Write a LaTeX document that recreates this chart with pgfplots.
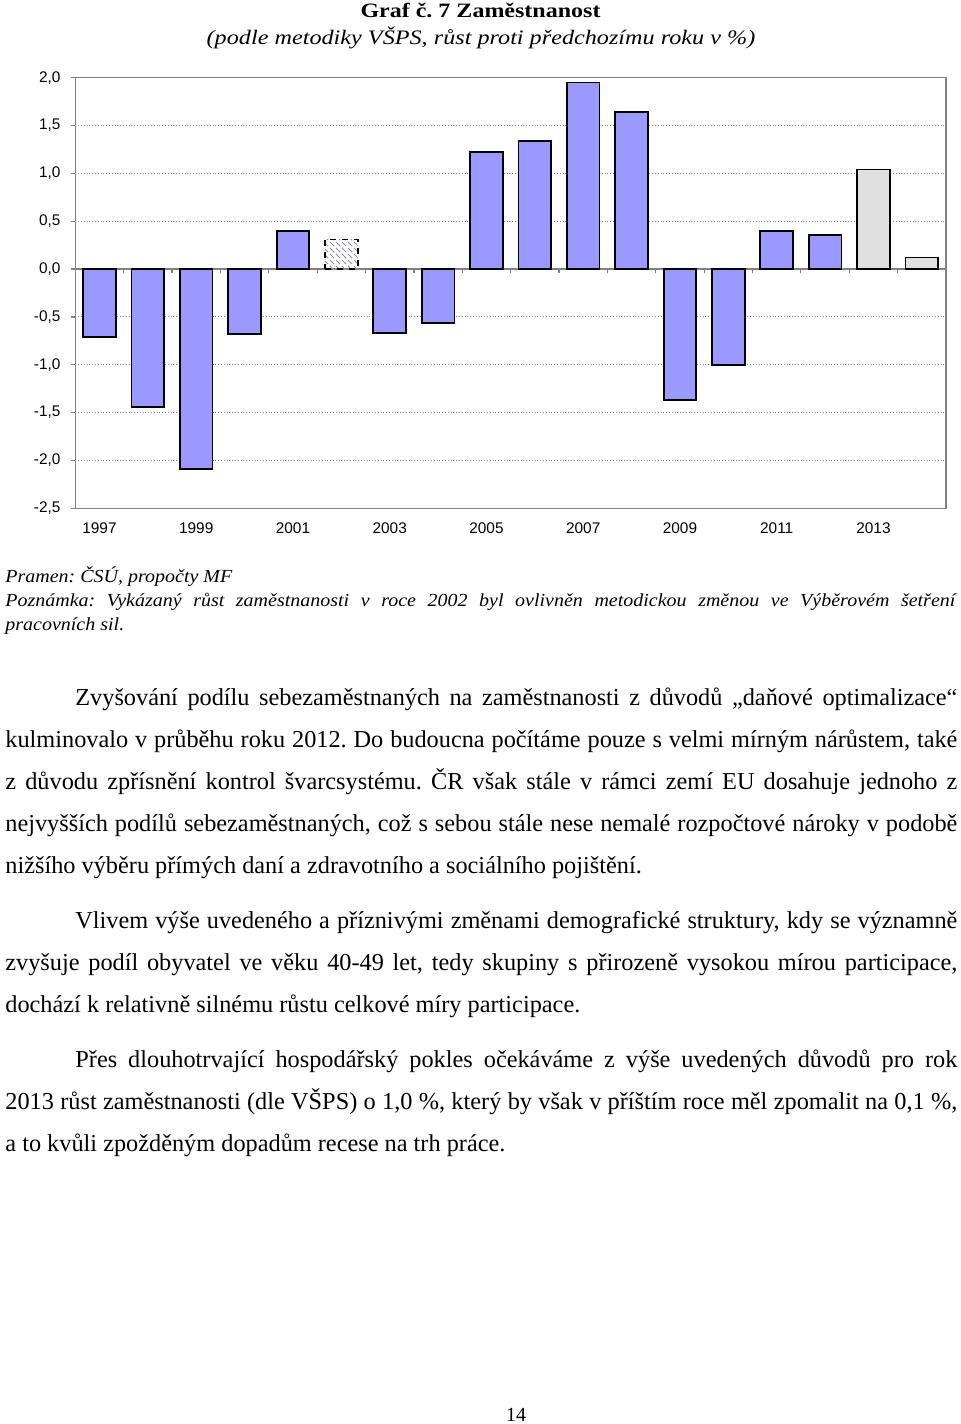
\documentclass[border=0pt]{standalone}
\usepackage{fontspec}
\setmainfont{Liberation Serif}
\newfontfamily\arial{Liberation Sans}
\usepackage{pgfplots}
\pgfplotsset{compat=1.18}
\usetikzlibrary{patterns}
\definecolor{barblue}{HTML}{9999FF}
\definecolor{bargray}{HTML}{E0E0E0}
\definecolor{hatch}{HTML}{8C8CB4}
\definecolor{gridgray}{HTML}{808080}
\pgfplotsset{
  base/.style={
    at={(37.65pt,-38.85pt)}, anchor=north west,
    scale only axis, width=435.35pt, height=215.3pt,
    xmin=-0.5, xmax=17.5, ymin=-2.5, ymax=2.0,
  }
}
\frenchspacing
\begin{document}
\begin{tikzpicture}
\useasboundingbox (0,0) rectangle (480pt,-712pt);
% zero line with category boundary ticks
\begin{axis}[base,
  axis x line=middle, axis y line=none,
  axis line style={-, gridgray, line width=0.6pt},
  xtick={0.5,1.5,...,16.5}, xticklabels={},
  ytick=\empty,
  x tick style={gridgray, line width=0.6pt},
  tick align=outside, major tick length=2.2pt,
]
\end{axis}
\begin{axis}[base,
  ytick={-2.5,-2,-1.5,-1,-0.5,0,0.5,1,1.5,2},
  xtick={0,2,...,16},
  xticklabels={1997,1999,2001,2003,2005,2007,2009,2011,2013},
  x tick style={draw=none},
  ytick pos=left,
  tick align=outside, major tick length=2.3pt,
  y tick style={gridgray, line width=0.6pt},
  ymajorgrids,
  grid style={gridgray, densely dotted, line width=0.5pt},
  axis line style={gridgray, line width=0.6pt},
  yticklabel style={font=\arial\fontsize{7.7}{9}\selectfont, xshift=-1.6pt},
  xticklabel style={font=\arial\fontsize{7.7}{9}\selectfont, yshift=-1.6pt},
  /pgf/number format/.cd, fixed, fixed zerofill, precision=1, use comma, assume math mode=true,
  /pgfplots/.cd,
  ybar, bar width=0.675, bar shift=0pt,
]
\addplot[fill=barblue, draw=black, line width=0.9pt] coordinates {
  (0,-0.71) (1,-1.44) (2,-2.09) (3,-0.68) (4,0.40)
  (6,-0.67) (7,-0.56) (8,1.22) (9,1.34) (10,1.95) (11,1.64)
  (12,-1.37) (13,-1.00) (14,0.40) (15,0.36)};
\addplot[pattern=north west lines, pattern color=hatch, draw=black, dashed, line width=0.9pt] coordinates {(5,0.31)};
\addplot[fill=bargray, draw=black, line width=0.9pt] coordinates {(16,1.04) (17,0.12)};
\end{axis}
\begin{scope}[x=0.5pt,y=-0.5pt]
\node[anchor=base, inner sep=0] at (480.5,17.3) {\scalebox{1}[0.85]{\fontsize{12}{14}\selectfont\bfseries Graf č. 7 Zaměstnanost}};
\node[anchor=base, inner sep=0] at (481,44) {\scalebox{1}[0.85]{\fontsize{12.1}{14}\selectfont\itshape (podle metodiky VŠPS, růst proti předchozímu roku v~\%)}};
\node[anchor=base west, inner sep=0] at (5,582.5) {\scalebox{1}[0.92]{\parbox[t]{475pt}{\fontsize{10}{13}\selectfont\itshape\frenchspacing Pramen: ČSÚ, propočty MF\\
Poznámka: Vykázaný růst zaměstnanosti v~roce 2002 byl ovlivněn metodickou změnou ve Výběrovém šetření \linebreak pracovních sil.}}};
\node[anchor=base west, inner sep=0] at (5,705) {\parbox[t]{476pt}{\fontsize{12.15}{21.1}\selectfont\frenchspacing\setlength{\parindent}{35pt}\setlength{\parskip}{6.2pt}%
\indent Zvyšování podílu sebezaměstnaných na zaměstnanosti z~důvodů „daňové optimalizace“ \linebreak
kulminovalo v~průběhu roku 2012. Do budoucna počítáme pouze s~velmi mírným nárůstem, také \linebreak
z~důvodu zpřísnění kontrol švarcsystému. ČR však stále v~rámci zemí EU dosahuje jednoho z \linebreak
nejvyšších podílů sebezaměstnaných, což s~sebou stále nese nemalé rozpočtové nároky v~podobě \linebreak
nižšího výběru přímých daní a zdravotního a sociálního pojištění.\par
Vlivem výše uvedeného a příznivými změnami demografické struktury, kdy se významně \linebreak
zvyšuje podíl obyvatel ve věku 40-49 let, tedy skupiny s~přirozeně vysokou mírou participace, \linebreak
dochází k~relativně silnému růstu celkové míry participace.\par
Přes dlouhotrvající hospodářský pokles očekáváme z~výše uvedených důvodů pro rok \linebreak
2013 růst zaměstnanosti (dle VŠPS) o~1,0~\%, který by však v~příštím roce měl zpomalit na 0,1~\%, \linebreak
a to kvůli zpožděným dopadům recese na trh práce.}};
\node[anchor=base, inner sep=0] at (516,1421) {\fontsize{10}{12}\selectfont 14};
\end{scope}
\end{tikzpicture}
\end{document}
